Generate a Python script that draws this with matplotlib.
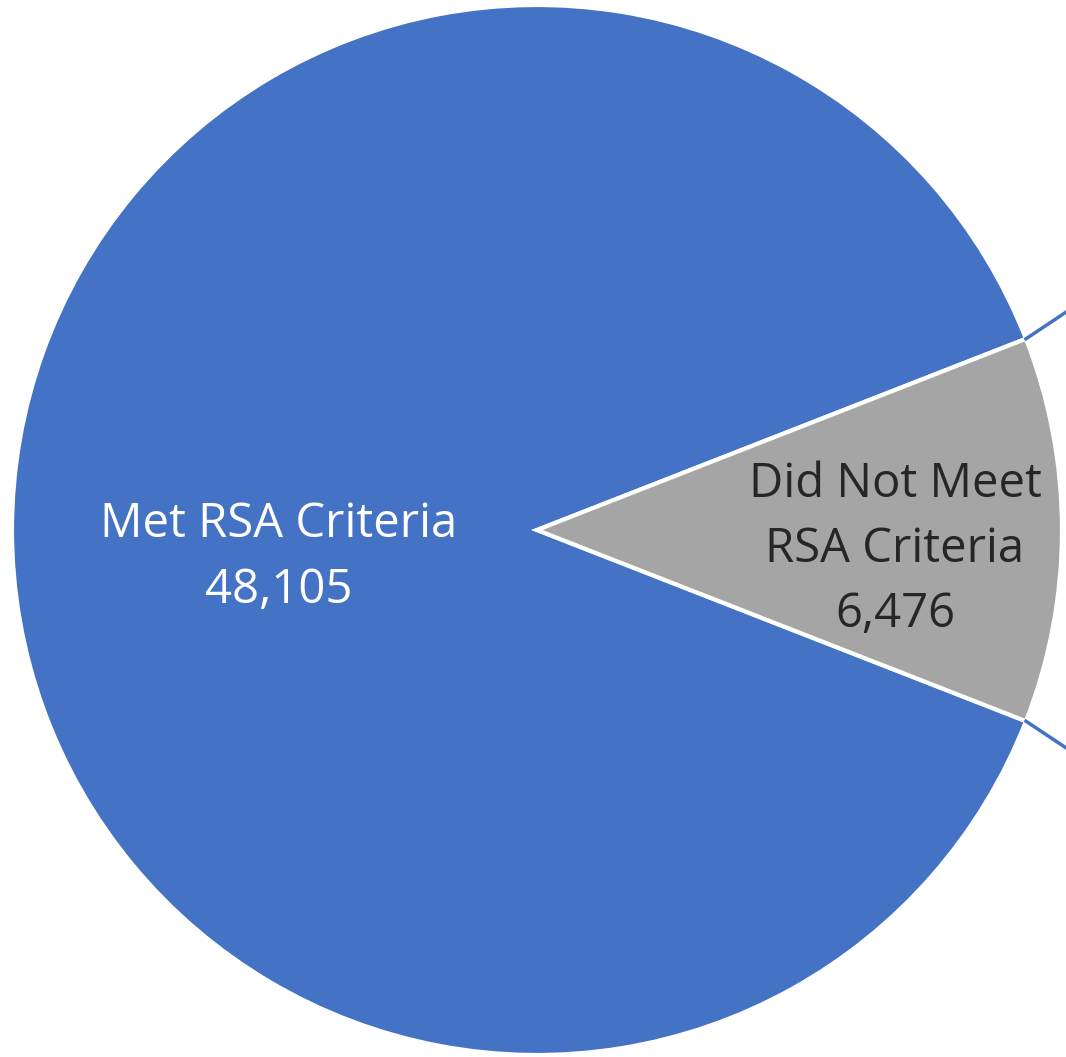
import numpy as np
import matplotlib.pyplot as plt

labels = ["Met RSA Criteria", "Did Not Meet\nRSA Criteria"]
values = [48105, 6476]
colors = ["#4472C4", "#A5A5A5"]

W, H = 1066, 1057
cx, cy, r = 537, H - 530, 525

fig = plt.figure(figsize=(W / 100, H / 100), dpi=100)
ax = fig.add_axes([0, 0, 1, 1])

grey_share = values[1] / sum(values) * 360

# blue slice first, running counterclockwise so grey sits on the right
ax.pie(values, colors=colors, startangle=grey_share / 2, center=(cx, cy),
       radius=r, frame=True,
       wedgeprops=dict(edgecolor="white", linewidth=3))
ax.set_xlim(0, W)
ax.set_ylim(0, H)
ax.set_aspect("equal")
ax.axis("off")

# connector lines toward the second (cropped) chart
half = np.deg2rad(grey_share / 2)
x0 = cx + r * np.cos(half)
ax.plot([x0, W + 5], [cy + r * np.sin(half), cy + r * np.sin(half) + 30],
        color="#4472C4", lw=2.5, clip_on=False)
ax.plot([x0, W + 5], [cy - r * np.sin(half), cy - r * np.sin(half) - 30],
        color="#4472C4", lw=2.5, clip_on=False)

font = "Open Sans"
ax.text(279, H - 557, f"{labels[0]}\n{values[0]:,}", ha="center", va="center",
        color="white", fontsize=34, family=font, linespacing=1.52)
ax.text(895, H - 549, f"{labels[1]}\n{values[1]:,}", ha="center", va="center",
        color="#262626", fontsize=34, family=font, linespacing=1.48)

fig.savefig("out.png", dpi=100)
